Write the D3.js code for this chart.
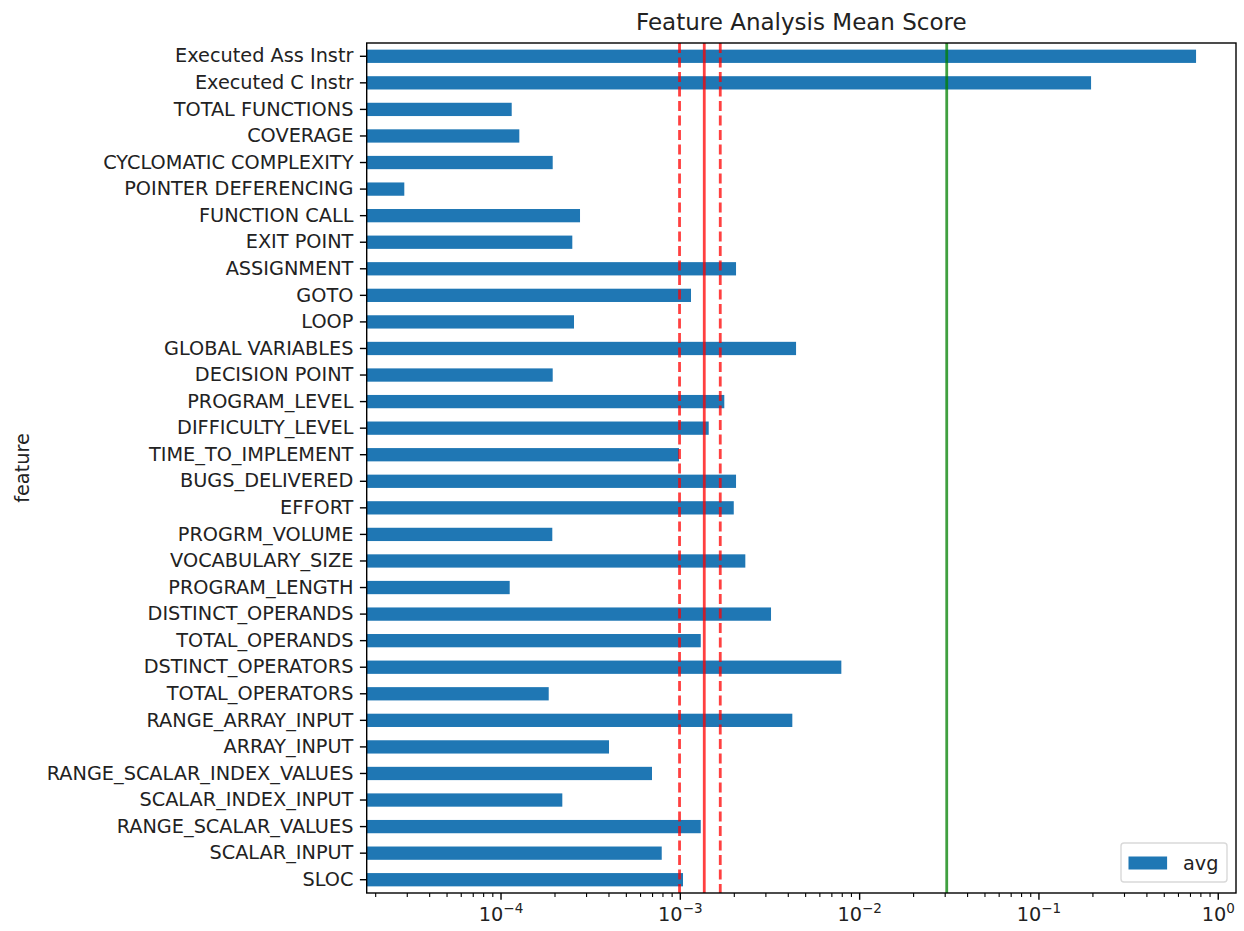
<!DOCTYPE html>
<html>
<head>
<meta charset="utf-8">
<script src="https://cdn.jsdelivr.net/npm/d3@7"></script>
<style>
  body { margin: 0; background: #fff; }
  text { font-family: "DejaVu Sans", sans-serif; fill: #222; }
</style>
</head>
<body>
<svg id="chart" width="1244" height="931"></svg>
<script>
// Features, top to bottom
const features = [
  "Executed Ass Instr", "Executed C Instr", "TOTAL FUNCTIONS", "COVERAGE",
  "CYCLOMATIC COMPLEXITY", "POINTER DEFERENCING", "FUNCTION CALL", "EXIT POINT",
  "ASSIGNMENT", "GOTO", "LOOP", "GLOBAL VARIABLES", "DECISION POINT",
  "PROGRAM_LEVEL", "DIFFICULTY_LEVEL", "TIME_TO_IMPLEMENT", "BUGS_DELIVERED",
  "EFFORT", "PROGRM_VOLUME", "VOCABULARY_SIZE", "PROGRAM_LENGTH",
  "DISTINCT_OPERANDS", "TOTAL_OPERANDS", "DSTINCT_OPERATORS", "TOTAL_OPERATORS",
  "RANGE_ARRAY_INPUT", "ARRAY_INPUT", "RANGE_SCALAR_INDEX_VALUES",
  "SCALAR_INDEX_INPUT", "RANGE_SCALAR_VALUES", "SCALAR_INPUT", "SLOC"
];

// Mean score per feature ("avg")
const avg = [
  0.752, 0.1953, 1.147e-4, 1.265e-4,
  1.942e-4, 2.888e-5, 2.758e-4, 2.498e-4,
  2.045e-3, 1.147e-3, 2.553e-4, 4.42e-3, 1.942e-4,
  1.759e-3, 1.440e-3, 0.983e-3, 2.045e-3,
  1.986e-3, 1.932e-4, 2.304e-3, 1.118e-4,
  3.205e-3, 1.300e-3, 7.906e-3, 1.845e-4,
  4.213e-3, 4.002e-4, 6.95e-4,
  2.197e-4, 1.300e-3, 7.875e-4, 1.035e-3
];

// Reference lines: red band (dashed edges, solid centre) and green threshold
const redDashed = [0.00099, 0.00167];
const redSolid = [0.00136];
const greenLine = [0.0306];

// Axis limits and decade tick exponents
const xLimits = [1.782e-5, 1.256];
const majorExponents = [-4, -3, -2, -1, 0];

const title = "Feature Analysis Mean Score";
const yLabel = "feature";
const legendLabel = "avg";

const FS = 19.3;        // tick / label font size
const TITLE_FS = 23;
const margin = { left: 366.7, top: 43 };
const width = 1236 - margin.left;
const height = 893 - margin.top;

const svg = d3.select("#chart");
const g = svg.append("g").attr("transform", `translate(${margin.left},${margin.top})`);

const x = d3.scaleLog().domain(xLimits).range([0, width]);
const y = d3.scaleBand().domain(features).range([0, height]).paddingInner(0.5).paddingOuter(0.25);

const blue = "#1f77b4";

// Bars
g.append("g").selectAll("rect")
  .data(features)
  .join("rect")
  .attr("x", 0)
  .attr("y", d => y(d))
  .attr("width", (d, i) => x(avg[i]))
  .attr("height", y.bandwidth())
  .attr("fill", blue);

// Vertical reference lines
const vline = (vals, color, dash, op) => {
  g.append("g").selectAll("line")
    .data(vals)
    .join("line")
    .attr("x1", d => x(d)).attr("x2", d => x(d))
    .attr("y1", 0).attr("y2", height)
    .attr("stroke", color)
    .attr("stroke-opacity", op)
    .attr("stroke-width", 2.8)
    .attr("stroke-dasharray", dash);
};
vline(redDashed, "#ff0000", "10 4.5", 0.75);
vline(redSolid, "#ff0000", null, 0.75);
vline(greenLine, "#008000", null, 0.75);

// Y axis
const yAxis = d3.axisLeft(y).tickSize(6.8).tickPadding(6.5);
const yg = g.append("g").call(yAxis);
yg.select(".domain").remove();
yg.selectAll(".tick line").attr("stroke", "#000").attr("stroke-width", 1.4);
yg.selectAll(".tick text")
  .attr("font-size", FS)
  .attr("font-family", "DejaVu Sans")
  .attr("fill", "#222");

// X axis: major decades with superscript labels, plus minor ticks
const minor = [];
for (let e = -5; e <= 0; e++) {
  for (let k = 2; k <= 9; k++) {
    const v = k * Math.pow(10, e);
    if (v >= xLimits[0] && v <= xLimits[1]) minor.push(v);
  }
}
const xg = g.append("g").attr("transform", `translate(0,${height})`);
xg.selectAll("line.minor")
  .data(minor)
  .join("line")
  .attr("class", "minor")
  .attr("x1", d => x(d)).attr("x2", d => x(d))
  .attr("y1", 0).attr("y2", 3.9)
  .attr("stroke", "#000").attr("stroke-width", 1.1);
const majors = xg.selectAll("g.major")
  .data(majorExponents)
  .join("g")
  .attr("class", "major")
  .attr("transform", d => `translate(${x(Math.pow(10, d))},0)`);
majors.append("line")
  .attr("y1", 0).attr("y2", 6.8)
  .attr("stroke", "#000").attr("stroke-width", 1.4);
const lbl = majors.append("text")
  .attr("y", 28)
  .attr("text-anchor", "middle")
  .attr("font-size", FS);
lbl.append("tspan").text("10");
lbl.append("tspan")
  .attr("dy", -8)
  .attr("font-size", FS * 0.7)
  .text(d => d === 0 ? "0" : "\u2212" + Math.abs(d));

// Frame
g.append("rect")
  .attr("x", 0).attr("y", 0)
  .attr("width", width).attr("height", height)
  .attr("fill", "none")
  .attr("stroke", "#000")
  .attr("stroke-width", 1.4);

// Title
svg.append("text")
  .attr("x", margin.left + width / 2)
  .attr("y", 30)
  .attr("text-anchor", "middle")
  .attr("font-size", TITLE_FS)
  .text(title);

// Y label
svg.append("text")
  .attr("transform", `translate(29,${margin.top + height / 2}) rotate(-90)`)
  .attr("text-anchor", "middle")
  .attr("font-size", FS)
  .text(yLabel);

// Legend
const lg = svg.append("g").attr("transform", "translate(1121,843)");
lg.append("rect")
  .attr("x", 0).attr("y", 0)
  .attr("width", 106).attr("height", 39)
  .attr("rx", 3)
  .attr("fill", "#fff").attr("fill-opacity", 0.8)
  .attr("stroke", "#d9d9d9").attr("stroke-width", 1.4);
lg.append("rect")
  .attr("x", 7.5).attr("y", 13.5)
  .attr("width", 38.6).attr("height", 13)
  .attr("fill", blue);
lg.append("text")
  .attr("x", 62).attr("y", 27)
  .attr("font-size", FS)
  .text(legendLabel);
</script>
</body>
</html>
